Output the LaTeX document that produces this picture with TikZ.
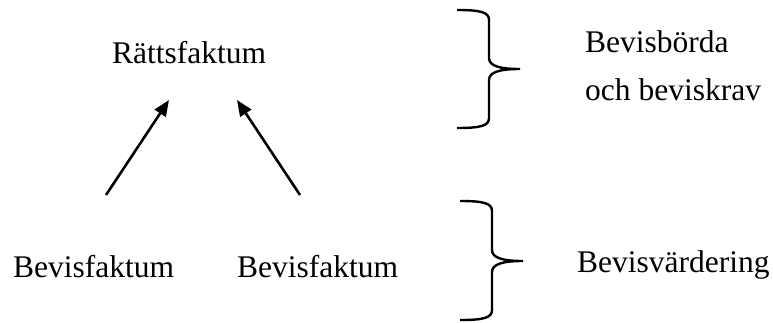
\documentclass[tikz,border=0pt]{standalone}
\usepackage{fontspec}
\setmainfont{Liberation Serif}
\usetikzlibrary{arrows.meta}
\begin{document}
\begin{tikzpicture}[x=1pt,y=-1pt,
  label/.style={anchor=base west,inner sep=0pt,font=\fontsize{31.5}{36}\selectfont},
  arr/.style={line width=2.6pt,-{Triangle[length=16pt,width=13pt]}},
  brace/.style={line width=2.4pt}]
\useasboundingbox (0,0) rectangle (773,322);

% texts
\node[label] (rf) at (112,63) {Rättsfaktum};
\node[label] (bf1) at (13,277) {Bevisfaktum};
\node[label] (bf2) at (237,277) {Bevisfaktum};
\node[label] (bb) at (585,52) {Bevisbörda};
\node[label] (bk) at (585,100) {och beviskrav};
\node[label] (bv) at (577,272) {Bevisvärdering};

% arrows
\coordinate (t1) at (106,195);
\coordinate (h1) at (169,100);
\coordinate (t2) at (300,195);
\coordinate (h2) at (237,100);
\draw[arr] (t1) -- (h1);
\draw[arr] (t2) -- (h2);

% upper brace
\coordinate (a1) at (457,10);
\coordinate (a2) at (457,128);
\coordinate (atip) at (520,69);
\draw[brace] (a1) .. controls (480,10) and (489,12) .. (489,20) -- (489,58)
  .. controls (489,66) and (500,69) .. (atip)
  .. controls (500,69) and (489,72) .. (489,80) -- (489,118)
  .. controls (489,126) and (480,128) .. (a2);

% lower brace
\coordinate (c1) at (460,201);
\coordinate (c2) at (460,320);
\coordinate (ctip) at (523,261);
\draw[brace] (c1) .. controls (483,201) and (492,203) .. (492,211) -- (492,250)
  .. controls (492,258) and (503,261) .. (ctip)
  .. controls (503,261) and (492,264) .. (492,272) -- (492,310)
  .. controls (492,318) and (483,320) .. (c2);
\end{tikzpicture}
\end{document}
